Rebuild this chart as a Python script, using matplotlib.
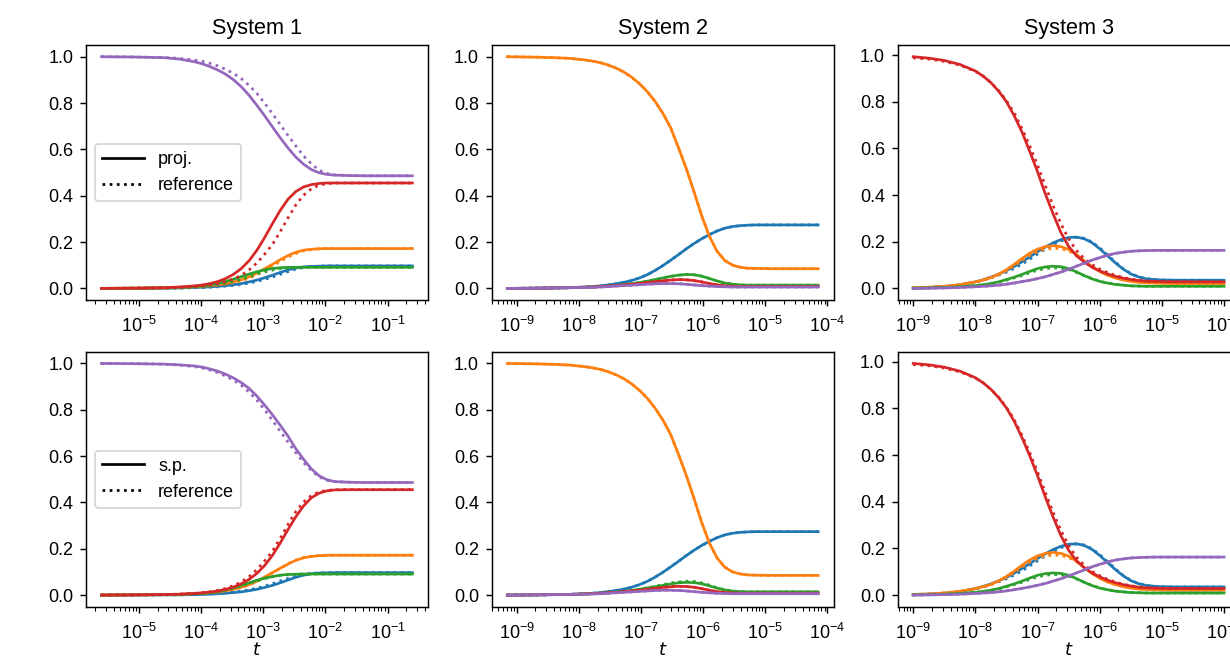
import matplotlib
matplotlib.use("Agg")
from matplotlib import pyplot as plt
from matplotlib.lines import Line2D
import numpy as np

plt.rcParams['font.family'] = ['Liberation Sans', 'DejaVu Sans']

# log10(t) sample points, one grid per system
exp1 = [-5.6, -5.1, -4.6, -4.35, -4.1, -3.975, -3.85, -3.725, -3.6, -3.475, -3.35, -3.225, -3.1, -2.975,
        -2.85, -2.725, -2.6, -2.475, -2.35, -2.225, -2.1, -1.975, -1.85, -1.6, -1.35, -1.1, -0.6]
exp2 = [-9.15, -8.65, -8.4, -8.15, -7.9, -7.775, -7.65, -7.525, -7.4, -7.275, -7.15, -7.025, -6.9, -6.775, -6.65,
        -6.525, -6.4, -6.275, -6.15, -6.025, -5.9, -5.775, -5.65, -5.525, -5.4, -5.275, -5.15, -4.9, -4.65, -4.15]
exp3 = [-9.0, -8.75, -8.5, -8.25, -8.0, -7.875, -7.75, -7.625, -7.5, -7.375, -7.25, -7.125, -7.0, -6.875, -6.75, -6.625,
        -6.5, -6.375, -6.25, -6.125, -6.0, -5.875, -5.75, -5.625, -5.5, -5.375, -5.25, -5.125, -5.0, -4.75, -4.5, -4.0]

# ---- System 1 (species order: blue, orange, green, red, purple) ----
sys1_ref = [
    [0, 0, 0.001, 0.001, 0.003, 0.004, 0.005, 0.007, 0.010, 0.013, 0.017, 0.023, 0.030, 0.039, 0.049, 0.061, 0.072, 0.083, 0.090, 0.094, 0.096, 0.097, 0.097, 0.097, 0.097, 0.097, 0.097],
    [0, 0.001, 0.002, 0.003, 0.006, 0.008, 0.010, 0.014, 0.019, 0.025, 0.033, 0.044, 0.059, 0.077, 0.096, 0.116, 0.135, 0.151, 0.162, 0.168, 0.171, 0.172, 0.172, 0.172, 0.172, 0.172, 0.172],
    [0, 0.001, 0.002, 0.003, 0.006, 0.008, 0.011, 0.016, 0.022, 0.030, 0.040, 0.051, 0.062, 0.071, 0.079, 0.085, 0.088, 0.090, 0.091, 0.091, 0.091, 0.091, 0.091, 0.091, 0.091, 0.091, 0.091],
    [0, 0.001, 0.002, 0.004, 0.008, 0.011, 0.015, 0.021, 0.029, 0.041, 0.057, 0.080, 0.110, 0.148, 0.190, 0.245, 0.305, 0.360, 0.402, 0.430, 0.446, 0.452, 0.455, 0.455, 0.455, 0.455, 0.455],
    [1.0, 0.999, 0.997, 0.993, 0.986, 0.980, 0.971, 0.960, 0.945, 0.928, 0.905, 0.876, 0.841, 0.799, 0.754, 0.707, 0.660, 0.615, 0.572, 0.538, 0.510, 0.496, 0.490, 0.487, 0.486, 0.486, 0.486],
]
sys1_proj = [
    [0, 0, 0.001, 0.002, 0.004, 0.005, 0.007, 0.009, 0.012, 0.016, 0.021, 0.028, 0.036, 0.046, 0.057, 0.069, 0.080, 0.088, 0.093, 0.095, 0.096, 0.097, 0.097, 0.097, 0.097, 0.097, 0.097],
    [0, 0.001, 0.002, 0.004, 0.007, 0.009, 0.012, 0.016, 0.021, 0.028, 0.037, 0.050, 0.066, 0.085, 0.104, 0.124, 0.142, 0.156, 0.165, 0.169, 0.171, 0.172, 0.172, 0.172, 0.172, 0.172, 0.172],
    [0, 0.001, 0.002, 0.004, 0.008, 0.011, 0.015, 0.022, 0.030, 0.040, 0.051, 0.062, 0.072, 0.080, 0.086, 0.089, 0.091, 0.091, 0.091, 0.091, 0.091, 0.091, 0.091, 0.091, 0.091, 0.091, 0.091],
    [0, 0.001, 0.003, 0.006, 0.011, 0.015, 0.021, 0.030, 0.043, 0.061, 0.086, 0.120, 0.165, 0.220, 0.280, 0.337, 0.385, 0.418, 0.438, 0.448, 0.453, 0.455, 0.455, 0.455, 0.455, 0.455, 0.455],
    [1.0, 0.999, 0.996, 0.990, 0.978, 0.969, 0.957, 0.942, 0.924, 0.900, 0.870, 0.833, 0.790, 0.745, 0.697, 0.650, 0.606, 0.567, 0.536, 0.513, 0.499, 0.492, 0.489, 0.487, 0.486, 0.486, 0.486],
]
sys1_sp = [
    [0, 0, 0.001, 0.001, 0.002, 0.003, 0.004, 0.006, 0.008, 0.011, 0.014, 0.019, 0.025, 0.033, 0.042, 0.053, 0.065, 0.077, 0.086, 0.092, 0.095, 0.096, 0.097, 0.097, 0.097, 0.097, 0.097],
    [0, 0.001, 0.002, 0.003, 0.006, 0.008, 0.010, 0.014, 0.019, 0.025, 0.034, 0.045, 0.060, 0.078, 0.097, 0.116, 0.134, 0.150, 0.161, 0.167, 0.170, 0.172, 0.172, 0.172, 0.172, 0.172, 0.172],
    [0, 0.001, 0.002, 0.003, 0.006, 0.008, 0.011, 0.016, 0.023, 0.032, 0.042, 0.053, 0.064, 0.073, 0.080, 0.086, 0.089, 0.090, 0.091, 0.091, 0.091, 0.091, 0.091, 0.091, 0.091, 0.091, 0.091],
    [0, 0.001, 0.002, 0.004, 0.007, 0.010, 0.013, 0.018, 0.025, 0.035, 0.049, 0.068, 0.094, 0.128, 0.172, 0.225, 0.283, 0.338, 0.385, 0.420, 0.440, 0.450, 0.454, 0.455, 0.455, 0.455, 0.455],
    [1.0, 0.999, 0.997, 0.994, 0.989, 0.984, 0.976, 0.966, 0.953, 0.937, 0.917, 0.892, 0.859, 0.820, 0.778, 0.733, 0.686, 0.632, 0.586, 0.545, 0.515, 0.498, 0.490, 0.487, 0.486, 0.486, 0.486],
]

# ---- System 2 ----
sys2_blue = [0, 0.001, 0.002, 0.003, 0.006, 0.008, 0.011, 0.015, 0.020, 0.026, 0.034, 0.045, 0.059, 0.077, 0.098, 0.121, 0.145, 0.170, 0.193, 0.214, 0.232, 0.248, 0.260, 0.267, 0.271, 0.273, 0.274, 0.274, 0.274, 0.274]
sys2_orange = [1.0, 0.998, 0.996, 0.993, 0.986, 0.981, 0.974, 0.964, 0.951, 0.934, 0.912, 0.884, 0.850, 0.808, 0.757, 0.695, 0.610, 0.520, 0.420, 0.315, 0.225, 0.160, 0.120, 0.100, 0.091, 0.087, 0.086, 0.085, 0.085, 0.085]
sys2_green = [0, 0.001, 0.002, 0.003, 0.005, 0.006, 0.008, 0.010, 0.013, 0.016, 0.020, 0.025, 0.031, 0.038, 0.045, 0.052, 0.057, 0.060, 0.059, 0.053, 0.043, 0.032, 0.023, 0.018, 0.015, 0.014, 0.014, 0.014, 0.014, 0.014]
sys2_red = [0, 0.001, 0.002, 0.003, 0.005, 0.006, 0.008, 0.010, 0.012, 0.015, 0.018, 0.021, 0.025, 0.029, 0.033, 0.036, 0.038, 0.037, 0.034, 0.028, 0.021, 0.015, 0.011, 0.009, 0.008, 0.008, 0.008, 0.008, 0.008, 0.008]
sys2_purple = [0, 0.001, 0.002, 0.003, 0.004, 0.005, 0.006, 0.008, 0.010, 0.012, 0.014, 0.016, 0.018, 0.020, 0.021, 0.021, 0.020, 0.018, 0.015, 0.012, 0.010, 0.008, 0.007, 0.006, 0.006, 0.006, 0.006, 0.006, 0.006, 0.006]
sys2_green_sp = [0, 0.001, 0.002, 0.003, 0.005, 0.006, 0.008, 0.010, 0.013, 0.016, 0.020, 0.025, 0.031, 0.036, 0.042, 0.048, 0.053, 0.055, 0.054, 0.049, 0.040, 0.030, 0.022, 0.017, 0.015, 0.014, 0.014, 0.014, 0.014, 0.014]

sys2_ref = [sys2_blue, sys2_orange, sys2_green, sys2_red, sys2_purple]
sys2_proj = [sys2_blue, sys2_orange, sys2_green, sys2_red, sys2_purple]
sys2_sp = [sys2_blue, sys2_orange, sys2_green_sp, sys2_red, sys2_purple]

# ---- System 3 ----
sys3_purple = [0.000, 0.001, 0.002, 0.004, 0.007, 0.009, 0.011, 0.014, 0.018, 0.023, 0.029, 0.035, 0.042, 0.050, 0.060, 0.070, 0.082, 0.095, 0.108, 0.121, 0.132, 0.142, 0.150, 0.155, 0.159, 0.161, 0.162, 0.163, 0.163, 0.163, 0.163, 0.163]
sys3_ref = [
    [0.002, 0.004, 0.008, 0.015, 0.027, 0.035, 0.045, 0.057, 0.070, 0.086, 0.104, 0.125, 0.147, 0.168, 0.187, 0.203, 0.214, 0.219, 0.215, 0.199, 0.174, 0.144, 0.113, 0.085, 0.064, 0.050, 0.042, 0.038, 0.036, 0.035, 0.035, 0.035],
    [0.003, 0.005, 0.009, 0.016, 0.027, 0.035, 0.045, 0.059, 0.076, 0.097, 0.120, 0.141, 0.157, 0.167, 0.172, 0.170, 0.161, 0.143, 0.118, 0.094, 0.074, 0.058, 0.046, 0.037, 0.031, 0.027, 0.024, 0.023, 0.022, 0.021, 0.021, 0.021],
    [0.001, 0.002, 0.004, 0.007, 0.012, 0.015, 0.020, 0.026, 0.035, 0.045, 0.055, 0.067, 0.078, 0.085, 0.088, 0.087, 0.081, 0.069, 0.055, 0.042, 0.031, 0.023, 0.018, 0.014, 0.011, 0.010, 0.009, 0.009, 0.009, 0.009, 0.009, 0.009],
    [0.988, 0.983, 0.973, 0.957, 0.930, 0.910, 0.882, 0.848, 0.805, 0.752, 0.685, 0.610, 0.528, 0.440, 0.355, 0.278, 0.212, 0.163, 0.128, 0.102, 0.083, 0.068, 0.056, 0.047, 0.040, 0.035, 0.032, 0.030, 0.029, 0.028, 0.028, 0.028],
    sys3_purple,
]
sys3_blue = [0.002, 0.004, 0.008, 0.015, 0.028, 0.037, 0.048, 0.061, 0.076, 0.094, 0.114, 0.135, 0.157, 0.177, 0.195, 0.209, 0.218, 0.220, 0.213, 0.196, 0.170, 0.140, 0.110, 0.083, 0.062, 0.049, 0.041, 0.038, 0.036, 0.035, 0.035, 0.035]
sys3_orange = [0.003, 0.005, 0.009, 0.016, 0.028, 0.036, 0.046, 0.061, 0.080, 0.103, 0.128, 0.151, 0.168, 0.179, 0.183, 0.179, 0.167, 0.146, 0.118, 0.093, 0.072, 0.056, 0.045, 0.036, 0.030, 0.026, 0.024, 0.023, 0.022, 0.021, 0.021, 0.021]
sys3_green = [0.001, 0.002, 0.004, 0.007, 0.012, 0.016, 0.021, 0.028, 0.038, 0.048, 0.060, 0.073, 0.085, 0.092, 0.095, 0.093, 0.085, 0.071, 0.055, 0.041, 0.030, 0.023, 0.017, 0.014, 0.011, 0.010, 0.009, 0.009, 0.009, 0.009, 0.009, 0.009]
sys3_red_proj = [0.993, 0.987, 0.977, 0.960, 0.932, 0.910, 0.882, 0.845, 0.800, 0.740, 0.670, 0.587, 0.500, 0.405, 0.320, 0.240, 0.180, 0.140, 0.113, 0.091, 0.075, 0.062, 0.052, 0.044, 0.038, 0.034, 0.031, 0.030, 0.029, 0.028, 0.028, 0.028]
sys3_red_sp = [0.993, 0.987, 0.977, 0.960, 0.932, 0.910, 0.882, 0.846, 0.802, 0.745, 0.675, 0.597, 0.512, 0.420, 0.335, 0.255, 0.192, 0.148, 0.118, 0.095, 0.078, 0.064, 0.053, 0.045, 0.039, 0.034, 0.031, 0.030, 0.029, 0.028, 0.028, 0.028]
sys3_proj = [sys3_blue, sys3_orange, sys3_green, sys3_red_proj, sys3_purple]
sys3_sp = [sys3_blue, sys3_orange, sys3_green, sys3_red_sp, sys3_purple]

titles = ["System 1", "System 2", "System 3"]
grids = [exp1, exp2, exp3]
approx_rows = [[sys1_proj, sys2_proj, sys3_proj], [sys1_sp, sys2_sp, sys3_sp]]
refs = [sys1_ref, sys2_ref, sys3_ref]
row_labels = ["proj.", "s.p."]

fig = plt.figure(figsize=(1230 / 130, 665 / 130), dpi=130)
col_left = [0.0699, 0.3998, 0.7298]
row_bottom = [0.5489, 0.0877]

for r in range(2):
    for c in range(3):
        ax = fig.add_axes([col_left[c], row_bottom[r], 0.278, 0.3832])
        t = 10.0 ** np.array(grids[c])
        for k in range(5):
            ax.plot(t, approx_rows[r][c][k], color=f"C{k}")
            ax.plot(t, refs[c][k], color=f"C{k}", ls=":")
        ax.set_xscale("log")
        ax.tick_params(axis="x", which="major", pad=5.5)
        if r == 0:
            ax.set_title(titles[c])
        else:
            ax.set_xlabel("$t$", labelpad=-0.5)
        if c == 0:
            handles = [Line2D([], [], color="k", ls="-"), Line2D([], [], color="k", ls=":")]
            ax.legend(handles, [row_labels[r], "reference"], loc="center left",
                      handlelength=2.3)

fig.savefig("out.png", dpi=130)
